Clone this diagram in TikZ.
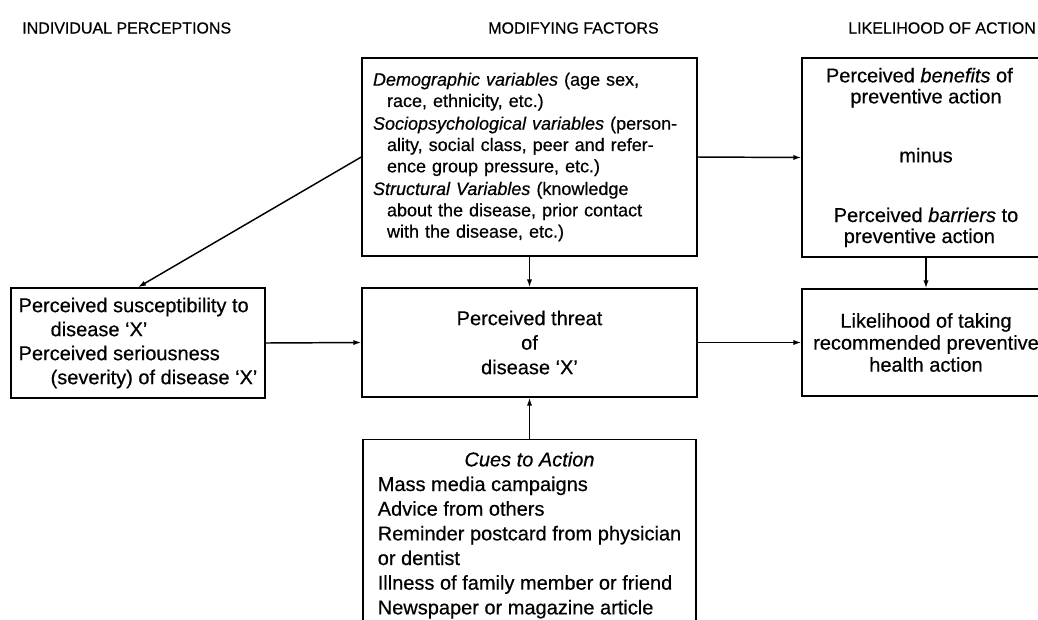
\documentclass[tikz,border=0pt]{standalone}
\usepackage{fontspec}
\setmainfont{Liberation Sans}[FakeBold=0.5]
\usetikzlibrary{arrows.meta}

\begin{document}
\begin{tikzpicture}[x=0.75pt, y=-0.75pt,
	box/.style = {draw, line width=1.1pt, inner xsep=7.5pt, inner ysep=4pt},
	head/.style = {anchor=west, inner sep=0pt, font=\fontsize{12}{14}\selectfont},
	arr/.style = {line width=1.1pt, -{Latex[length=6pt, width=4pt]}}]
	\clip (0,0) rectangle (1038,619);
	\node[head] (h1) at (22,28) {INDIVIDUAL PERCEPTIONS};
	\node[head] (h2) at (488,28) {MODIFYING FACTORS};
	\node[head] (h3) at (848,28) {LIKELIHOOD OF ACTION};
	\node[box, align=left, inner xsep=0pt, minimum width=190.5pt, minimum height=82.5pt, font=\fontsize{15}{18}\selectfont] (sus) at (138,343) {Perceived susceptibility to\\ \hspace*{24pt}disease `X'\\ Perceived seriousness\\ \hspace*{24pt}(severity) of disease `X'};
	\node[box, align=left, inner xsep=8.25pt, minimum width=251.25pt, minimum height=148.5pt, text width=234.75pt, font=\fontsize{13.5}{16}\selectfont] (mod) at (529.5,157) {\textit{Demographic variables} (age sex,\\ \hspace*{10.5pt}race, ethnicity, etc.)\\[1pt] \textit{Sociopsychological variables} (person-\\ \hspace*{10.5pt}ality, social class, peer and refer-\\ \hspace*{10.5pt}ence group pressure, etc.)\\[1pt] \textit{Structural Variables} (knowledge\\ \hspace*{10.5pt}about the disease, prior contact\\ \hspace*{10.5pt}with the disease, etc.)};
	\node[box, align=center, minimum width=251.25pt, minimum height=81.75pt, font=\fontsize{15}{18.4}\selectfont] (thr) at (529.5,342.5) {Perceived threat\\ of\\ disease `X'};
	\node[box, align=center, minimum width=186pt, minimum height=149.25pt, font=\fontsize{15}{15.75}\selectfont] (ben) at (926,157.5) {Perceived \textit{benefits} of\hspace*{10pt}\\ preventive action\hspace*{10pt}\\[28.5pt] minus\hspace*{10pt}\\[29pt] Perceived \textit{barriers} to\hspace*{10pt}\\ preventive action\hspace*{10pt}};
	\node[box, align=center, minimum width=186pt, minimum height=80.25pt, font=\fontsize{15}{16.5}\selectfont] (lik) at (926,342.5) {Likelihood of taking\\ recommended preventive\\ health action};
	\node[box, anchor=north, inner xsep=0pt, inner ysep=7pt, minimum width=250pt, font=\fontsize{15}{18.5}\selectfont] (cue) at (529.5,439) {\begin{tabular}{@{}l@{}}
		\multicolumn{1}{@{}c@{}}{\textit{Cues to Action}}\\
		Mass media campaigns\\
		Advice from others\\
		Reminder postcard from physician\\
		or dentist\\
		Illness of family member or friend\\
		Newspaper or magazine article
	\end{tabular}};
	\draw[arr] (mod.west) -- (sus.north);
	\draw[arr] (mod.south) -- (thr.north);
	\draw[arr] (mod.east) -- (ben.west);
	\draw[arr] (sus.east) -- (thr.west);
	\draw[arr] (thr.east) -- (lik.west);
	\draw[arr] (ben.south) -- (lik.north);
	\draw[arr] (cue.north) -- (thr.south);
\end{tikzpicture}
\end{document}
